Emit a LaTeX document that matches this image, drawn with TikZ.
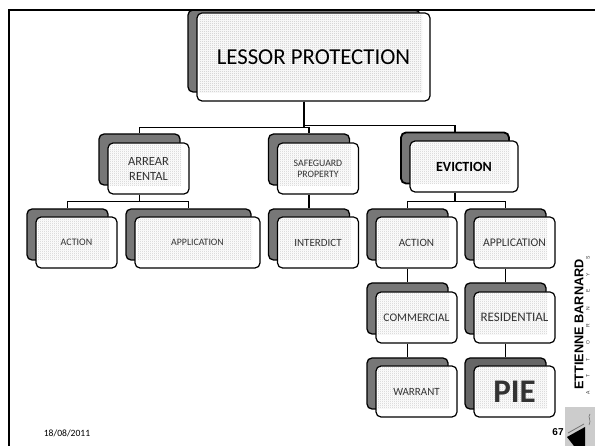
\documentclass[tikz,border=0pt]{standalone}
\usepackage{fontspec}
\setmainfont{Carlito}
\newfontfamily\logofont{Liberation Sans}
\newfontfamily\logospaced[LetterSpace=270]{Liberation Sans}
\usetikzlibrary{patterns}
\definecolor{myshadecolor}{HTML}{777777}
\definecolor{mypiecolor}{HTML}{666666}
\definecolor{mytextcolor}{HTML}{333333}
\definecolor{mylogocolor}{HTML}{CCCCCC}
\pgfdeclarepatternformonly{finedots}{\pgfpointorigin}{\pgfqpoint{2pt}{2pt}}{\pgfqpoint{2pt}{2pt}}{%
\pgfpathrectangle{\pgfqpoint{0.1pt}{0.1pt}}{\pgfqpoint{0.8pt}{0.8pt}}%
\pgfpathrectangle{\pgfqpoint{1.1pt}{1.1pt}}{\pgfqpoint{0.8pt}{0.8pt}}%
\pgfusepath{fill}}
\tikzset{%
backbox/.style={draw, line width=1.3pt, fill=myshadecolor, rectangle, rounded corners=5pt, inner sep=0pt},%
frontbox/.style={draw, line width=1.2pt, fill=white, rectangle, rounded corners=5pt, inner sep=0pt, align=center, text=mytextcolor,%
path picture={\fill[pattern=finedots, pattern color=black!24, sharp corners] ([shift={(2pt,-2pt)}]path picture bounding box.north west) rectangle ([shift={(-8pt,8pt)}]path picture bounding box.south east);}},%
link/.style={draw, line width=1.3pt},%
stem/.style={draw, line width=1.8pt},%
}

\begin{document}
\begin{tikzpicture}[x=1pt, y=-1pt]%
\useasboundingbox (0,0) rectangle (595,446);%
\node[backbox, minimum width=232pt, minimum height=82pt] (lessorback) at (304, 51) {};%
\node[frontbox, minimum width=233pt, minimum height=88pt, text=black] (lessor) at (313.5, 57) {\fontsize{22.8pt}{22.8pt}\selectfont LESSOR PROTECTION};%
\node[backbox, minimum width=81pt, minimum height=51pt] (arrearback) at (139.5, 159.5) {};%
\node[frontbox, minimum width=81pt, minimum height=51pt, font=\fontsize{12.5pt}{15.0pt}\selectfont] (arrear) at (148.5, 168.5) {ARREAR\\RENTAL};%
\node[backbox, minimum width=81pt, minimum height=51pt] (safeguardback) at (309, 159.5) {};%
\node[frontbox, minimum width=81pt, minimum height=51pt, font=\fontsize{9.8pt}{11.0pt}\selectfont] (safeguard) at (318, 168.5) {SAFEGUARD\\PROPERTY};%
\node[backbox, minimum width=108pt, minimum height=51pt, line width=1.8pt] (evictionback) at (455, 158) {};%
\node[frontbox, minimum width=108pt, minimum height=51pt, text=black] (eviction) at (464, 166.5) {\fontsize{14.0pt}{14.0pt}\selectfont\bfseries EVICTION};%
\node[backbox, minimum width=81pt, minimum height=51pt] (actionaback) at (67.5, 234.5) {};%
\node[frontbox, minimum width=81pt, minimum height=51pt] (actiona) at (76.5, 242.5) {\fontsize{10.0pt}{10.0pt}\selectfont ACTION};%
\node[backbox, minimum width=125pt, minimum height=51pt] (applicationaback) at (188.5, 234.5) {};%
\node[frontbox, minimum width=125pt, minimum height=51pt] (applicationa) at (197.5, 242.5) {\fontsize{9.8pt}{9.8pt}\selectfont APPLICATION};%
\node[backbox, minimum width=81pt, minimum height=51pt] (interdictback) at (309, 234.5) {};%
\node[frontbox, minimum width=81pt, minimum height=51pt] (interdict) at (318, 242.5) {\fontsize{11.0pt}{11.0pt}\selectfont INTERDICT};%
\node[backbox, minimum width=81pt, minimum height=51pt] (actionbback) at (407.5, 234.5) {};%
\node[frontbox, minimum width=81pt, minimum height=51pt] (actionb) at (416.5, 242.5) {\fontsize{11.2pt}{11.2pt}\selectfont ACTION};%
\node[backbox, minimum width=81pt, minimum height=51pt] (applicationbback) at (505.5, 234.5) {};%
\node[frontbox, minimum width=81pt, minimum height=51pt] (applicationb) at (514.5, 242.5) {\fontsize{11.7pt}{11.7pt}\selectfont APPLICATION};%
\node[backbox, minimum width=81pt, minimum height=51pt] (commercialback) at (407.5, 308.5) {};%
\node[frontbox, minimum width=81pt, minimum height=51pt] (commercial) at (416.5, 317.5) {\fontsize{11.6pt}{11.6pt}\selectfont COMMERCIAL};%
\node[backbox, minimum width=81pt, minimum height=51pt] (residentialback) at (505.5, 308.5) {};%
\node[frontbox, minimum width=81pt, minimum height=51pt] (residential) at (514.5, 317.5) {\fontsize{13.0pt}{13.0pt}\selectfont RESIDENTIAL};%
\node[backbox, minimum width=81pt, minimum height=51pt] (warrantback) at (407.5, 383.5) {};%
\node[frontbox, minimum width=81pt, minimum height=51pt] (warrant) at (416.5, 391.5) {\fontsize{11.0pt}{11.0pt}\selectfont WARRANT};%
\node[backbox, minimum width=81pt, minimum height=51pt, fill=mypiecolor] (pieback) at (505.5, 383.5) {};%
\node[frontbox, minimum width=81pt, minimum height=51pt] (pie) at (514.5, 391.5) {\fontsize{33.0pt}{33.0pt}\selectfont\bfseries PIE};%
\draw[stem] (lessor.south -| lessorback.south) -- ++(0,25);%
\draw[link] (lessor.south -| lessorback.south) -- ++(0,26) -| (arrearback.north);%
\draw[link] (lessor.south -| lessorback.south) -- ++(0,26) -| (safeguardback.north);%
\draw[link] (lessor.south -| lessorback.south) -- ++(0,24) -| (evictionback.north);%
\draw[link] (arrear.south -| arrearback.south) -- ++(0,7) -| (actionaback.north);%
\draw[link] (arrear.south -| arrearback.south) -- ++(0,7) -| (applicationaback.north);%
\draw[stem] (safeguard.south -| safeguardback.south) -- (interdictback.north);%
\draw[link] (eviction.south -| evictionback.south) -- ++(0,9) -| (actionbback.north);%
\draw[link] (eviction.south -| evictionback.south) -- ++(0,9) -| (applicationbback.north);%
\draw[stem] (actionb.south -| actionbback.south) -- (commercialback.north);%
\draw[stem] (applicationb.south -| applicationbback.south) -- (residentialback.north);%
\draw[stem] (commercial.south -| commercialback.south) -- (warrantback.north);%
\draw[stem] (residential.south -| residentialback.south) -- (pieback.north);%
\draw[line width=2.6pt] (9, 446) -- (9, 10) -- (595, 10);%
\node (date) at (67, 433) {\fontsize{9.6pt}{9.6pt}\selectfont 18/08/2011};%
\node (pagenum) at (558, 432) {\fontsize{10.0pt}{10.0pt}\logofont\bfseries 67};%
\node[rotate=90] (firmname) at (579, 324.5) {\fontsize{12.7pt}{12.7pt}\logofont\bfseries ETTIENNE BARNARD};%
\node[rotate=90, text=black!80] (firmsub) at (588, 325) {\fontsize{5.0pt}{5.0pt}\logospaced ATTORNEYS};%
\fill[mylogocolor] (565, 407) rectangle (595, 446);%
\fill[black] (567, 437) -- (585, 427) -- (585, 446) -- (574, 446) -- cycle;%
\draw[black!55, line width=0.8pt] (568, 433) -- (584, 424);%
\draw[black!55, line width=0.6pt] (590, 414) .. controls (587, 417) and (592, 420) .. (589, 425);%
\end{tikzpicture}
\end{document}
